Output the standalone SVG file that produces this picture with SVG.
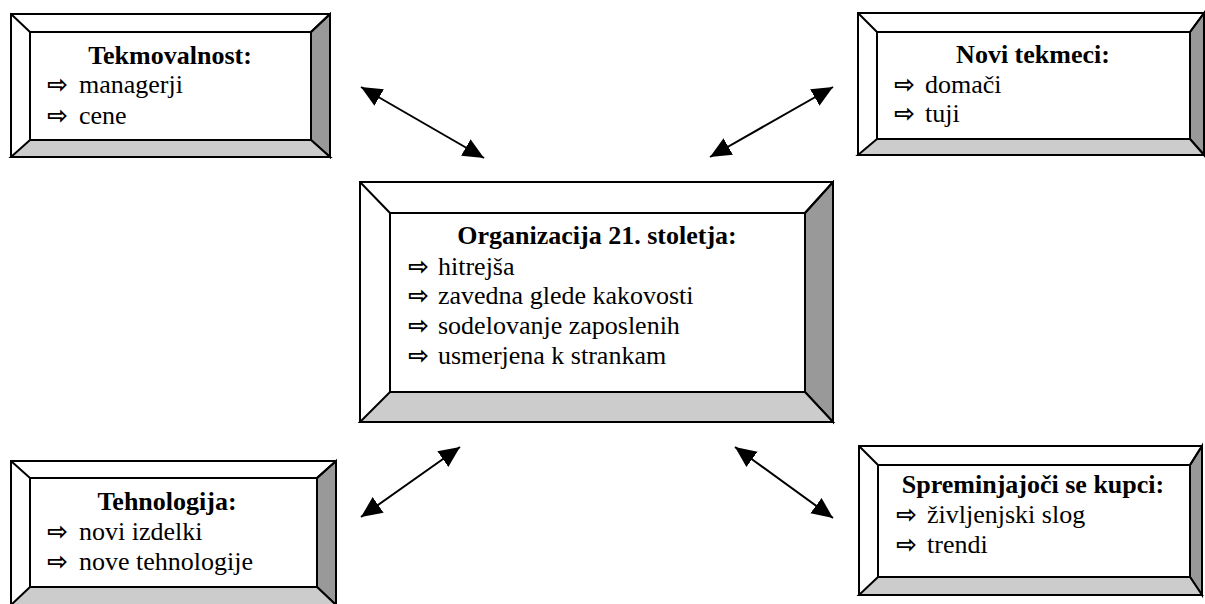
<svg xmlns="http://www.w3.org/2000/svg" width="1205" height="604" viewBox="0 0 1205 604">
<defs>
<style>
.o{fill:#fff;stroke:#000;stroke-width:2}
.rb{fill:#999;stroke:#000;stroke-width:2;stroke-linejoin:miter}
.bb{fill:#ccc;stroke:#000;stroke-width:2;stroke-linejoin:miter}
.ln{stroke:#000;stroke-width:2;fill:none}
.t{font-family:"Liberation Serif",serif;font-size:26px;font-weight:bold;fill:#000;text-anchor:middle}
.itm{font-family:"Liberation Serif","DejaVu Serif",serif;font-size:26px;font-weight:400;fill:#000}
.bul{font-family:"DejaVu Sans",sans-serif;font-size:25px;font-weight:bold;fill:#000}
.c{stroke:#000;stroke-width:2;fill:none;marker-start:url(#ah);marker-end:url(#ah)}
</style>
<marker id="ah" markerUnits="userSpaceOnUse" markerWidth="22" markerHeight="20" refX="21" refY="9.5" orient="auto-start-reverse" viewBox="0 0 22 20">
<path d="M0,0 L21,9.5 L0,19 Z" fill="#000"/>
</marker>
</defs>

<g id="tekmovalnost">
<rect class="o" x="11" y="14" width="319" height="143"/>
<polygon class="rb" points="330,14 330,157 311,140 311,32"/>
<polygon class="bb" points="11,157 330,157 311,140 30,140"/>
<rect class="o" x="30" y="32" width="281" height="108"/>
<path class="ln" d="M11,14 L30,32 M330,14 L311,32"/>
<text class="t" x="170" y="64">Tekmovalnost:</text>
<text class="bul" x="47" y="93">⇨</text><text class="itm" x="79" y="93">managerji</text>
<text class="bul" x="47" y="124">⇨</text><text class="itm" x="79" y="124">cene</text>
</g>

<g id="novi-tekmeci">
<rect class="o" x="858" y="13" width="346" height="142"/>
<polygon class="rb" points="1204,13 1204,155 1190,139 1190,32"/>
<polygon class="bb" points="858,155 1204,155 1190,139 877,139"/>
<rect class="o" x="877" y="32" width="313" height="107"/>
<path class="ln" d="M858,13 L877,32 M1204,13 L1190,32"/>
<text class="t" x="1033" y="63">Novi tekmeci:</text>
<text class="bul" x="894" y="93">⇨</text><text class="itm" x="925" y="93">domači</text>
<text class="bul" x="894" y="122">⇨</text><text class="itm" x="925" y="122">tuji</text>
</g>

<g id="organizacija">
<rect class="o" x="360" y="182" width="473" height="240"/>
<polygon class="rb" points="833,182 833,422 805,392 805,213"/>
<polygon class="bb" points="360,422 833,422 805,392 390,392"/>
<rect class="o" x="390" y="213" width="415" height="179"/>
<path class="ln" d="M360,182 L390,213 M833,182 L805,213"/>
<text class="t" x="597" y="244">Organizacija 21. stoletja:</text>
<text class="bul" x="408" y="275">⇨</text><text class="itm" x="438" y="275">hitrejša</text>
<text class="bul" x="408" y="304">⇨</text><text class="itm" x="438" y="304">zavedna glede kakovosti</text>
<text class="bul" x="408" y="334">⇨</text><text class="itm" x="438" y="334">sodelovanje zaposlenih</text>
<text class="bul" x="408" y="364">⇨</text><text class="itm" x="438" y="364">usmerjena k strankam</text>
</g>

<g id="tehnologija">
<rect class="o" x="11" y="461" width="325" height="144"/>
<polygon class="rb" points="336,461 336,605 317,587 317,478"/>
<polygon class="bb" points="11,605 336,605 317,587 30,587"/>
<rect class="o" x="30" y="478" width="287" height="109"/>
<path class="ln" d="M11,461 L30,478 M336,461 L317,478"/>
<text class="t" x="167" y="510">Tehnologija:</text>
<text class="bul" x="47" y="540">⇨</text><text class="itm" x="79" y="540">novi izdelki</text>
<text class="bul" x="47" y="570">⇨</text><text class="itm" x="79" y="570">nove tehnologije</text>
</g>

<g id="kupci">
<rect class="o" x="859" y="446" width="343" height="149"/>
<polygon class="rb" points="1202,446 1202,595 1190,577 1190,465"/>
<polygon class="bb" points="859,595 1202,595 1190,577 878,577"/>
<rect class="o" x="878" y="465" width="312" height="112"/>
<path class="ln" d="M859,446 L878,465 M1202,446 L1190,465"/>
<text class="t" x="1033" y="493">Spreminjajoči se kupci:</text>
<text class="bul" x="896" y="523">⇨</text><text class="itm" x="927" y="523">življenjski slog</text>
<text class="bul" x="896" y="553">⇨</text><text class="itm" x="927" y="553">trendi</text>
</g>

<g id="connectors">
<line class="c" x1="361" y1="87" x2="484" y2="158"/>
<line class="c" x1="833" y1="87" x2="710" y2="157"/>
<line class="c" x1="361" y1="517" x2="460" y2="447"/>
<line class="c" x1="735" y1="447" x2="833" y2="518"/>
</g>
</svg>
